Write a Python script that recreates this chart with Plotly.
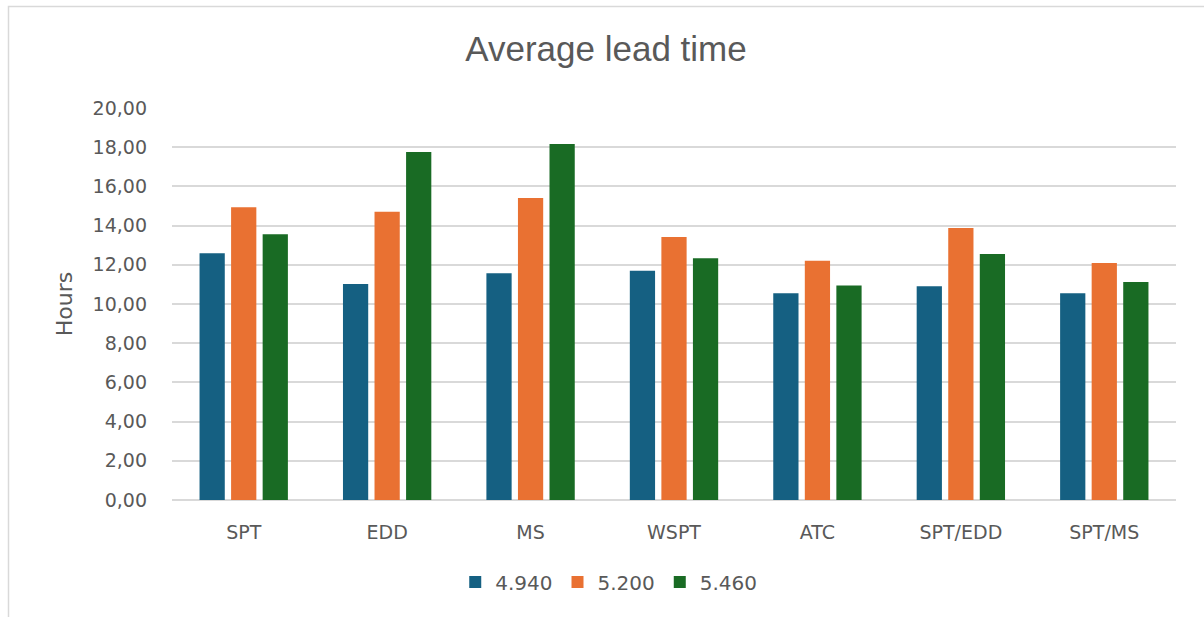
import plotly.graph_objects as go

categories = ["SPT", "EDD", "MS", "WSPT", "ATC", "SPT/EDD", "SPT/MS"]
series_names = ["4.940", "5.200", "5.460"]
s_4940 = [12.59, 11.02, 11.57, 11.70, 10.55, 10.90, 10.55]
s_5200 = [14.93, 14.71, 15.41, 13.42, 12.21, 13.88, 12.09]
s_5460 = [13.56, 17.76, 18.16, 12.33, 10.95, 12.55, 11.12]
colors = ["#156082", "#E97132", "#196B24"]
y_ticks = [0, 2, 4, 6, 8, 10, 12, 14, 16, 18, 20]

W, H = 1204, 617
ml, mr, mt, mb = 172, 28, 108, 117
pw, ph = W - ml - mr, H - mt - mb
FONT = "DejaVu Sans, Liberation Sans, sans-serif"

fig = go.Figure()
for name, vals, col in zip(series_names, [s_4940, s_5200, s_5460], colors):
    fig.add_trace(go.Bar(x=categories, y=vals, name=name, marker=dict(color=col, line=dict(width=0))))

fig.update_layout(
    width=W, height=H,
    margin=dict(l=ml, r=mr, t=mt, b=mb),
    paper_bgcolor="white", plot_bgcolor="white",
    separators=",.",
    barmode="group", bargap=0.34, bargroupgap=0.2,
    font=dict(family=FONT, color="#595959", size=19),
    title=dict(text="Average lead time", x=606 / W, xanchor="center",
               y=1 - 49 / H, yanchor="middle",
               font=dict(family="Liberation Sans, Arial, sans-serif", size=35, color="#595959")),
    legend=dict(orientation="h", x=0.435, xanchor="center", y=(500 - 582) / ph, yanchor="middle",
                font=dict(family=FONT, size=20, color="#595959"), itemwidth=30, traceorder="normal"),
    xaxis=dict(showgrid=False, showline=False, ticks="", tickfont=dict(size=19), ticklabelstandoff=19),
    yaxis=dict(range=[0, 20], tickvals=y_ticks, tickformat=".2f", showgrid=True,
               gridcolor="#D9D9D9", gridwidth=1.5, zeroline=True, zerolinecolor="#D9D9D9",
               zerolinewidth=1.5, ticks="", ticklabelstandoff=24, tickfont=dict(size=19),
               title=dict(text="Hours", font=dict(family=FONT, size=22, color="#595959"), standoff=13)),
    shapes=[dict(type="rect", xref="paper", yref="paper",
                 x0=(8.5 - ml) / pw, x1=(1230 - ml) / pw,
                 y0=(H - mb - 660) / ph, y1=(H - mb - 6.5) / ph,
                 line=dict(color="#D9D9D9", width=1.5), fillcolor="rgba(0,0,0,0)", layer="below")],
)
fig.write_html("out.html", config={"displayModeBar": False},
               post_script="document.body.style.margin='0';document.body.style.overflow='hidden';")
